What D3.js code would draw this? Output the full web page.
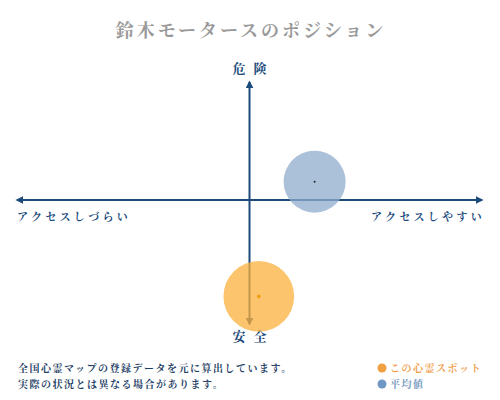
<!DOCTYPE html>
<html>
<head>
<meta charset="utf-8">
<script src="https://cdn.jsdelivr.net/npm/d3@7"></script>
<style>
  body { margin: 0; background: #fff; }
  text { font-family: "Noto Serif CJK JP", "Noto Sans CJK JP", serif; }
</style>
</head>
<body>
<svg width="500" height="400"></svg>
<script>
// two bubbles: this spot and the average
var names = ["この心霊スポット", "平均値"];
var access = [0.2, 1.4];      // x: アクセスしづらい (-) .. アクセスしやすい (+)
var danger = [-3.95, 0.75];   // y: 安全 (-) .. 危険 (+)
var spread = [1.14, 1.0];     // bubble size
var fills = ["#fbb03b", "#8faccd"];
var dots = ["#f39c12", "#222"];
var notes = ["全国心霊マップの登録データを元に算出しています。", "実際の状況とは異なる場合があります。"];

var svg = d3.select("svg");
var axisColor = "#1b4a7b";

var x = d3.scaleLinear().domain([-5, 5]).range([17, 482]);
var y = d3.scaleLinear().domain([-5, 5]).range([322, 78]);
var r = d3.scaleLinear().domain([0, 1]).range([0, 31]);

var defs = svg.append("defs");
defs.append("marker")
  .attr("id", "arrow")
  .attr("viewBox", "0 0 10 10")
  .attr("refX", 8).attr("refY", 5)
  .attr("markerWidth", 4).attr("markerHeight", 4)
  .attr("orient", "auto-start-reverse")
  .append("path")
  .attr("d", "M0,0 L10,5 L0,10 z")
  .attr("fill", axisColor);

svg.append("text")
  .attr("x", 251).attr("y", 37)
  .attr("text-anchor", "middle")
  .attr("font-size", "18px")
  .attr("font-weight", "bold")
  .attr("letter-spacing", "3px")
  .attr("fill", "#999")
  .text("鈴木モータースのポジション");

// axes
svg.append("line")
  .attr("x1", x(0)).attr("x2", x(0))
  .attr("y1", y(-5) + 2).attr("y2", y(5) + 4)
  .attr("stroke", axisColor).attr("stroke-width", 2)
  .attr("marker-start", "url(#arrow)")
  .attr("marker-end", "url(#arrow)");

svg.append("line")
  .attr("x1", x(-5)).attr("x2", x(5))
  .attr("y1", y(0)).attr("y2", y(0))
  .attr("stroke", axisColor).attr("stroke-width", 2)
  .attr("marker-start", "url(#arrow)")
  .attr("marker-end", "url(#arrow)");

var lab = svg.append("g")
  .attr("fill", axisColor)
  .attr("font-weight", "bold");

lab.append("text")
  .attr("x", x(0) + 4).attr("y", 73)
  .attr("text-anchor", "middle")
  .attr("font-size", "13px")
  .attr("letter-spacing", "8px")
  .text("危険");

lab.append("text")
  .attr("x", x(0) + 4).attr("y", 341)
  .attr("text-anchor", "middle")
  .attr("font-size", "13px")
  .attr("letter-spacing", "8px")
  .text("安全");

lab.append("text")
  .attr("x", x(-5)).attr("y", 221)
  .attr("font-size", "11px")
  .attr("letter-spacing", "3.3px")
  .text("アクセスしづらい");

lab.append("text")
  .attr("x", x(5) + 3).attr("y", 221)
  .attr("text-anchor", "end")
  .attr("font-size", "11px")
  .attr("letter-spacing", "3.3px")
  .text("アクセスしやすい");

// bubbles
var idx = d3.range(names.length);
svg.selectAll(".bubble")
  .data(idx)
  .enter().append("circle")
  .attr("class", "bubble")
  .attr("cx", function(i) { return x(access[i]); })
  .attr("cy", function(i) { return y(danger[i]); })
  .attr("r", function(i) { return r(spread[i]); })
  .attr("fill", function(i) { return fills[i]; })
  .attr("fill-opacity", 0.75);

svg.selectAll(".center")
  .data(idx)
  .enter().append("circle")
  .attr("class", "center")
  .attr("cx", function(i) { return x(access[i]); })
  .attr("cy", function(i) { return y(danger[i]); })
  .attr("r", function(i) { return i === 0 ? 1.8 : 1; })
  .attr("fill", function(i) { return dots[i]; });

// notes
svg.selectAll(".note")
  .data(notes)
  .enter().append("text")
  .attr("class", "note")
  .attr("x", 18)
  .attr("y", function(d, i) { return 372 + i * 16; })
  .attr("font-size", "10px")
  .attr("font-weight", "bold")
  .attr("letter-spacing", "1.5px")
  .attr("fill", "#1f3f66")
  .text(function(d) { return d; });

// legend
var legendText = ["#f0a050", "#7a9cc0"];
var legendDot = ["#f0a040", "#6f98c4"];
var lg = svg.selectAll(".legend")
  .data(idx)
  .enter().append("g")
  .attr("class", "legend")
  .attr("transform", function(i) { return "translate(382," + (368 + i * 16) + ")"; });

lg.append("circle")
  .attr("r", 4.5)
  .attr("fill", function(i) { return legendDot[i]; });

lg.append("text")
  .attr("x", 8).attr("y", 4)
  .attr("font-size", "10px")
  .attr("font-weight", "bold")
  .attr("letter-spacing", "1.5px")
  .attr("fill", function(i) { return legendText[i]; })
  .text(function(i) { return names[i]; });
</script>
</body>
</html>
